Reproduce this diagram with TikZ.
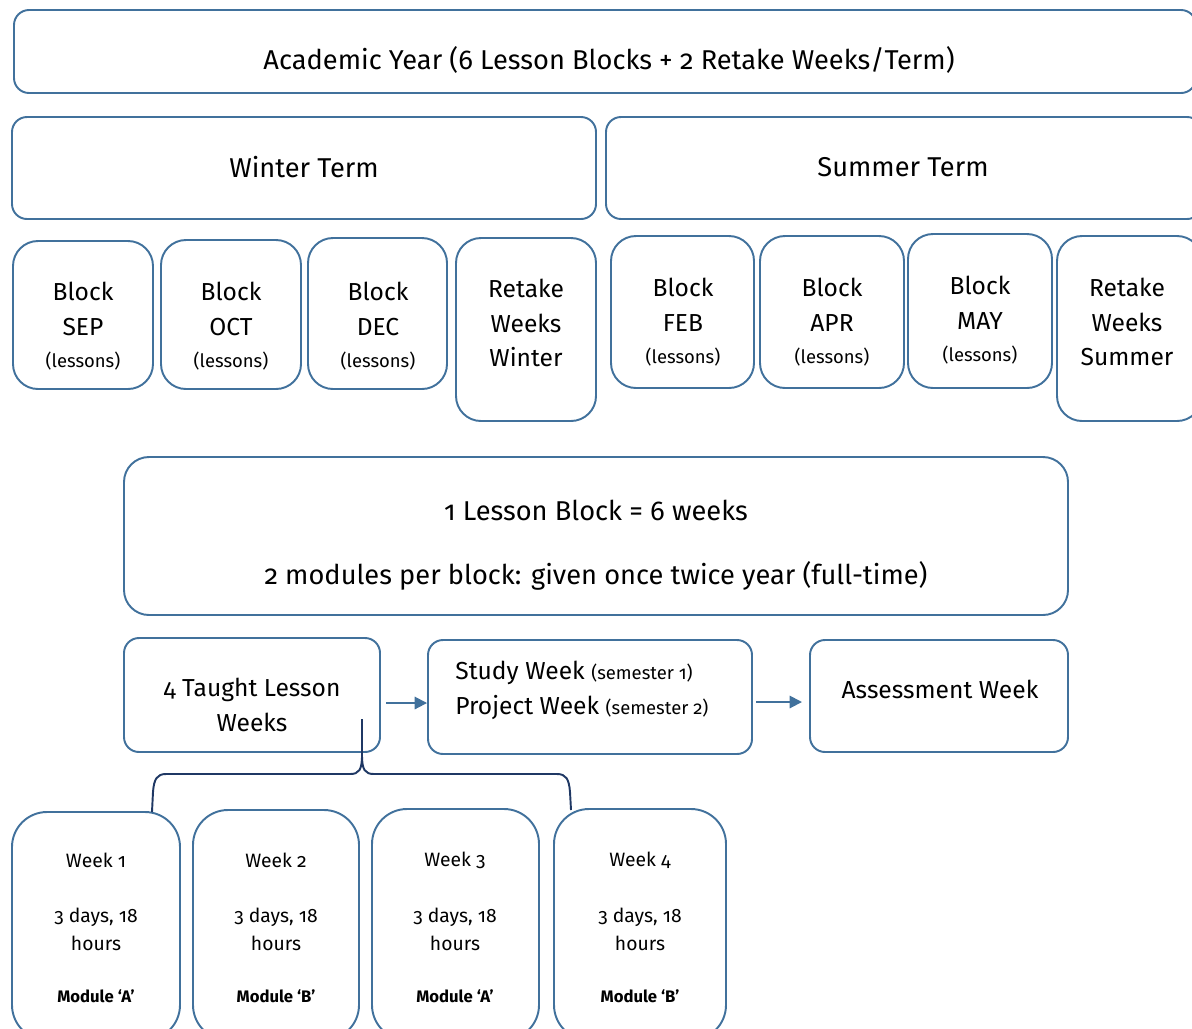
\documentclass[tikz,border=0pt]{standalone}
\usepackage{fontspec}
\setmainfont{Fira Sans}[Numbers=OldStyle]
\usetikzlibrary{fit,arrows.meta}
\definecolor{boxblue}{HTML}{41719C}
\definecolor{navy}{HTML}{1F3864}
\tikzset{
  box/.style={draw=boxblue, line width=1.1pt, inner sep=0pt, rounded corners=0.3cm},
  blk/.style={box, rounded corners=0.5cm},
  wk/.style={box, rounded corners=0.7cm},
  big/.style={font=\fontsize{14}{20}\selectfont, align=center, inner sep=0pt},
  huge/.style={font=\fontsize{15.5}{20}\selectfont, align=center, inner sep=0pt},
  wtxt/.style={font=\fontsize{11}{16}\selectfont, align=center, inner sep=0pt},
  mod/.style={font=\fontsize{9.5}{11}\selectfont\bfseries, inner sep=0pt},
  arr/.style={draw=boxblue, line width=1.1pt, -{Triangle[length=7pt,width=7pt]}},
  brace/.style={draw=navy, line width=1.1pt}
}
\newcommand{\lsn}{{\fontsize{10.5}{13}\selectfont (lessons)}}
\begin{document}
\begin{tikzpicture}[x=0.02cm,y=-0.02cm]
\clip (0,0) rectangle (1192,1028);
% top
\node[box, fit={(14,10) (1196,93)}] (year) {};
\node[huge] (yeart) at (609,60) {Academic Year (6 Lesson Blocks + 2 Retake Weeks/Term)};
\node[box, fit={(12,117) (596,219)}] (winter) {};
\node[huge] (wintert) at (304,167) {Winter Term};
\node[box, fit={(606,117) (1202,219)}] (summer) {};
\node[huge] (summert) at (903,167) {Summer Term};
% blocks
\node[blk, fit={(13,241) (153,389)}] (sep) {};
\node[big] (sept) at (83,326) {Block\\SEP\\[-1.5pt]\lsn};
\node[blk, fit={(161,240) (301,389)}] (oct) {};
\node[big] (octt) at (231,326) {Block\\OCT\\[-1.5pt]\lsn};
\node[blk, fit={(308,238) (447,389)}] (dec) {};
\node[big] (dect) at (378,326) {Block\\DEC\\[-1.5pt]\lsn};
\node[blk, fit={(456,238) (596,421)}] (rw) {};
\node[big] (rwt) at (526,323) {Retake\\Weeks\\[-0.5pt]Winter};
\node[blk, fit={(611,236) (754,388)}] (feb) {};
\node[big] (febt) at (683,322) {Block\\FEB\\[-1.5pt]\lsn};
\node[blk, fit={(760,236) (904,388)}] (apr) {};
\node[big] (aprt) at (832,322) {Block\\APR\\[-1.5pt]\lsn};
\node[blk, fit={(908,234) (1052,388)}] (may) {};
\node[big] (mayt) at (980,320) {Block\\MAY\\[-1.5pt]\lsn};
\node[blk, fit={(1057,236) (1202,421)}] (rs) {};
\node[big] (rst) at (1127,322) {Retake\\Weeks\\[-0.5pt]Summer};
% lesson block
\node[blk, fit={(124,457) (1068,615)}] (lb) {};
\node[huge] (lb1) at (596,510) {1 Lesson Block = 6 weeks};
\node[huge] (lb2) at (596,576) {2 modules per block: given once twice year (full-time)};
% row
\node[box, fit={(124,638) (380,752)}] (taught) {};
\node[big] (taughtt) at (252,705) {4 Taught Lesson\\Weeks};
\node[box, fit={(428,640) (752,754)}] (study) {};
\node[big, align=left, anchor=west] (studyt) at (455,690) {Study Week {\fontsize{10.5}{13}\selectfont(semester 1)}\\Project Week {\fontsize{10.5}{13}\selectfont(semester 2)}};
\node[box, fit={(810,640) (1068,752)}] (assess) {};
\node[big] (assesst) at (940,689) {Assessment Week};
\draw[arr, shorten <=3pt] (taught.east |- 0,703) -- (study.west |- 0,703);
\draw[arr, shorten <=2pt, shorten >=4pt] (study.east |- 0,702) -- (assess.west |- 0,702);
% weeks
\node[wk, fit={(12,812) (180,1040)}] (w1) {};
\node[wk, fit={(193,810) (359,1040)}] (w2) {};
\node[wk, fit={(372,809) (539,1040)}] (w3) {};
\node[wk, fit={(554,809) (726,1040)}] (w4) {};
\foreach \n/\x/\m in {1/96/A,2/276/B,3/455/A,4/640/B}{
  \node[wtxt] (wt\n) at (\x,860) {Week \n};
  \node[wtxt] (wd\n) at (\x,929) {3 days, 18\\hours};
  \node[mod] (wm\n) at (\x,996) {Module ‘\m’};
}
% brace
\coordinate (bt) at (362,719);
\coordinate (bl) at (152,812);
\coordinate (br) at (571,810);
\draw[brace] (bt) -- (362,755) .. controls (362,770) and (359,774) .. (350,774) -- (166,774) .. controls (157,774) and (154,779) .. (153,792) -- (bl);
\draw[brace] (bt) -- (362,755) .. controls (362,770) and (365,774) .. (374,774) -- (557,774) .. controls (566,774) and (569,779) .. (570,792) -- (br);
\end{tikzpicture}
\end{document}
